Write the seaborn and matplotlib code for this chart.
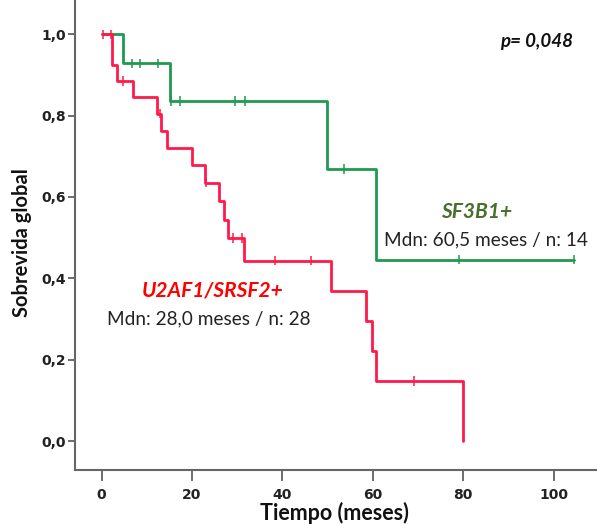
import numpy as np
import pandas as pd
import matplotlib
matplotlib.use("Agg")
import matplotlib.pyplot as plt
import seaborn as sns

# Follow-up time (months) and status (1 = death, 0 = censored) per group
sf3b1_time = [4.7, 6.8, 8.5, 12.5, 15.1, 15.4, 17.4, 29.5, 31.7, 49.8,
              53.7, 60.7, 79.1, 104.5]
sf3b1_event = [1, 0, 0, 0, 1, 0, 0, 0, 0, 1,
               0, 1, 0, 0]

u2af1_time = [0.3, 2.0, 2.3, 2.3, 3.3, 4.8, 7.0, 12.2, 12.9, 13.1,
              14.5, 19.9, 22.9, 23.1, 26.0, 27.1, 28.0, 29.1, 31.0, 31.4,
              38.4, 46.3, 50.7, 58.6, 59.9, 60.6, 69.1, 80.0]
u2af1_event = [0, 0, 1, 1, 1, 0, 1, 1, 0, 1,
               1, 1, 1, 0, 1, 1, 1, 0, 0, 1,
               0, 0, 1, 1, 1, 1, 0, 1]

groups = ["SF3B1+", "U2AF1/SRSF2+"]
x_ticks = [0, 20, 40, 60, 80, 100]
y_ticks = [0.0, 0.2, 0.4, 0.6, 0.8, 1.0]
colors = {"SF3B1+": "#21994f", "U2AF1/SRSF2+": "#ff1a4b"}


def kaplan_meier(times, events):
    df = pd.DataFrame({"t": times, "e": events}).sort_values("t", kind="stable")
    at_risk = len(df)
    s = 1.0
    xs, ys = [0.0], [1.0]
    for t, g in df.groupby("t", sort=True):
        d = int(g["e"].sum())
        if d:
            s *= (at_risk - d) / at_risk
            xs.append(t)
            ys.append(s)
        at_risk -= len(g)
    xs.append(df["t"].max())
    ys.append(s)
    steps = pd.DataFrame({"time": xs, "surv": ys})
    cens_t = df.loc[df["e"] == 0, "t"].to_numpy()
    idx = np.searchsorted(steps["time"].to_numpy(), cens_t, side="right") - 1
    cens = pd.DataFrame({"time": cens_t, "surv": steps["surv"].to_numpy()[idx]})
    return steps, cens


curves, marks = [], []
for name, t, e in [("SF3B1+", sf3b1_time, sf3b1_event),
                   ("U2AF1/SRSF2+", u2af1_time, u2af1_event)]:
    st, ce = kaplan_meier(t, e)
    st["grupo"] = name
    ce["grupo"] = name
    curves.append(st)
    marks.append(ce)
curves = pd.concat(curves, ignore_index=True)
marks = pd.concat(marks, ignore_index=True)

sns.set_theme(style="ticks")
plt.rcParams["font.family"] = ["Lato", "DejaVu Sans"]

fig = plt.figure(figsize=(5.97, 5.24), dpi=100)
ax = fig.add_axes([75.4 / 597, 1 - 469.5 / 524, 1 - 75.4 / 597, 469.5 / 524])

sns.lineplot(data=curves, x="time", y="surv", hue="grupo", palette=colors,
             estimator=None, sort=False, drawstyle="steps-post",
             linewidth=2.0, legend=False, ax=ax)
sns.scatterplot(data=marks, x="time", y="surv", hue="grupo", palette=colors,
                marker="|", s=45, linewidth=1.1, legend=False, ax=ax)

ax.set_xlim(-5.8, 109.6)
ax.set_ylim(-0.07, 1.084)
ax.set_xticks(x_ticks)
ax.set_yticks(y_ticks)
ax.set_xticklabels([str(v) for v in x_ticks])
ax.set_yticklabels([f"{v:.1f}".replace(".", ",") for v in y_ticks])
for lab in ax.get_xticklabels() + ax.get_yticklabels():
    lab.set_fontfamily("Liberation Sans Narrow")
    lab.set_fontweight("bold")
    lab.set_fontsize(10)
    lab.set_color("#222222")
ax.tick_params(axis="x", length=8, width=1.2, color="#555555", pad=5)
ax.tick_params(axis="y", length=5, width=1.2, color="#555555", pad=2)

sns.despine(ax=ax)
for sp in ("left", "bottom"):
    ax.spines[sp].set_color("#666666")
    ax.spines[sp].set_linewidth(1.5)

ax.set_xlabel("Tiempo (meses)", fontsize=15.5, fontweight="bold", color="#111111", va="center")
ax.set_ylabel("Sobrevida global", fontsize=14.5, fontweight="bold", color="#111111", va="center")
ax.xaxis.set_label_coords(0.496, -0.093)
ax.yaxis.set_label_coords(-0.103, 0.483)

ax.text(96.3, 0.982, "p= 0,048", fontsize=13.5, fontweight="bold", style="italic",
        ha="center", va="center", color="#111111")
ax.text(83.0, 0.564, "SF3B1+", fontsize=15, fontweight="bold", style="italic",
        ha="center", va="center", color="#4a6e2c")
ax.text(85.0, 0.494, "Mdn: 60,5 meses / n: 14", fontsize=13.7,
        ha="center", va="center", color="#222222")
ax.text(24.5, 0.370, "U2AF1/SRSF2+", fontsize=15, fontweight="bold", style="italic",
        ha="center", va="center", color="#ff0000")
ax.text(23.8, 0.299, "Mdn: 28,0 meses / n: 28", fontsize=13.7,
        ha="center", va="center", color="#222222")

fig.savefig("out.png", dpi=100)
